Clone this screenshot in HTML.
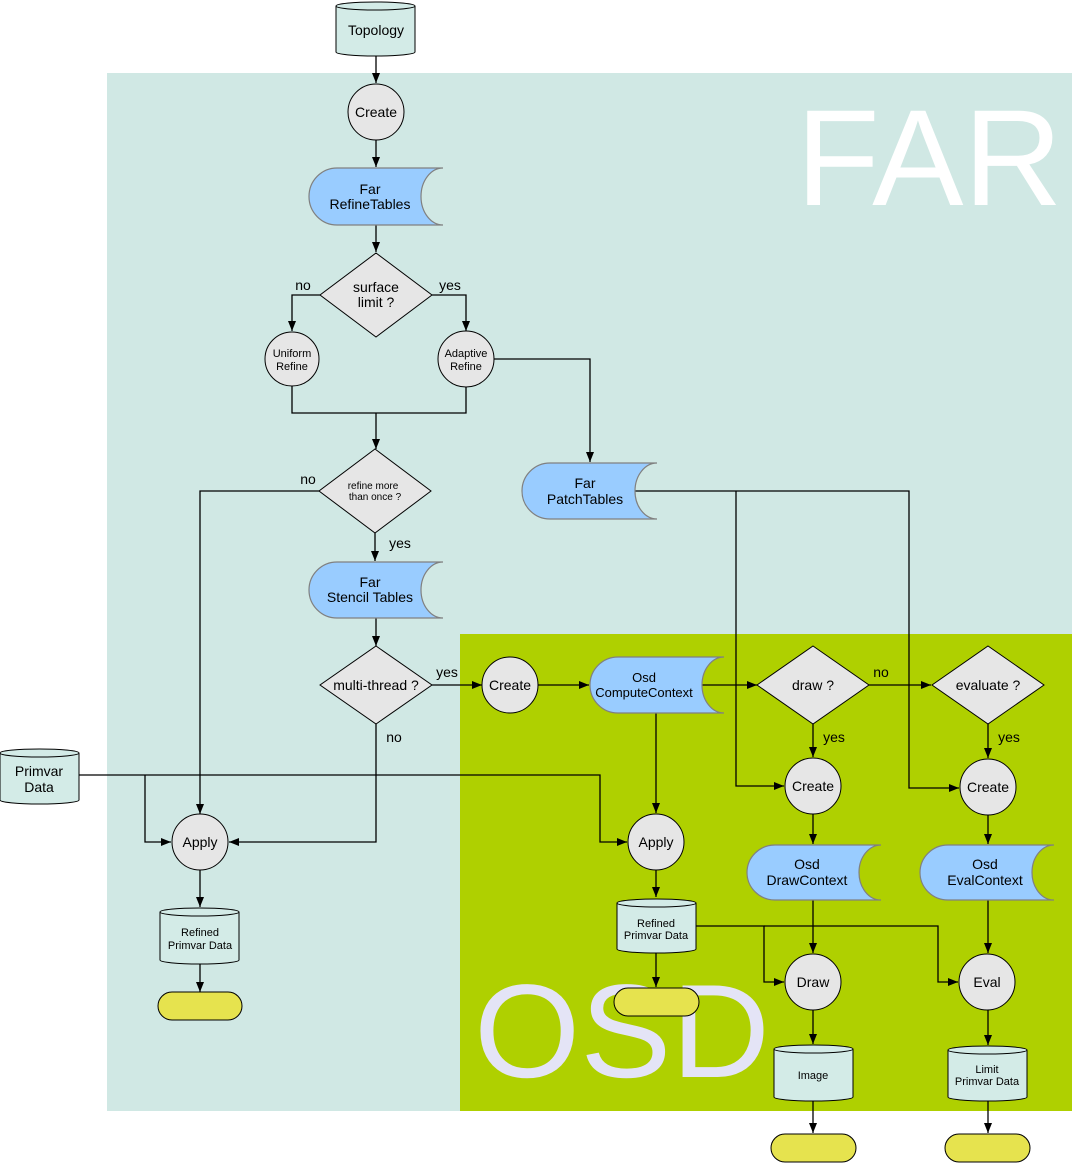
<!DOCTYPE html>
<html><head><meta charset="utf-8"><style>html,body{margin:0;padding:0;background:#fff}svg{display:block}</style></head>
<body>
<svg width="1072" height="1163" viewBox="0 0 1072 1163" xmlns="http://www.w3.org/2000/svg" font-family="Liberation Sans, sans-serif">
<defs>
<marker id="a" markerWidth="10" markerHeight="8" refX="10" refY="4" orient="auto" markerUnits="userSpaceOnUse"><path d="M0,0 L10,4 L0,8 Z" fill="#000"/></marker>
</defs>
<rect x="107" y="73" width="965" height="1038" fill="#d0e8e4"/>
<rect x="460" y="634" width="612" height="477" fill="#afd000"/>
<text x="796" y="205" font-size="137" fill="#fff">FAR</text>
<text x="474" y="1077" font-size="133" fill="#e4e4f6" textLength="296" lengthAdjust="spacingAndGlyphs">OSD</text>

<g fill="none" stroke="#000" stroke-width="1.3">
<path d="M376,56 V83" marker-end="url(#a)"/>
<path d="M376,140 V167" marker-end="url(#a)"/>
<path d="M376,225 V252" marker-end="url(#a)"/>
<path d="M320,295 H292 V331" marker-end="url(#a)"/>
<path d="M432,295 H466 V331" marker-end="url(#a)"/>
<path d="M292,386 V413 H466 V387"/>
<path d="M376,413 V449" marker-end="url(#a)"/>
<path d="M494,359 H590 V462" marker-end="url(#a)"/>
<path d="M319,491 H200 V814" marker-end="url(#a)"/>
<path d="M375,533 V561" marker-end="url(#a)"/>
<path d="M376,618 V646" marker-end="url(#a)"/>
<path d="M432,685 H482" marker-end="url(#a)"/>
<path d="M376,724 V842 H229" marker-end="url(#a)"/>
<path d="M538,685 H589" marker-end="url(#a)"/>
<path d="M702,685 H757" marker-end="url(#a)"/>
<path d="M656,713 V813" marker-end="url(#a)"/>
<path d="M869,685 H931" marker-end="url(#a)"/>
<path d="M813,724 V757" marker-end="url(#a)"/>
<path d="M988,724 V758" marker-end="url(#a)"/>
<path d="M635,491 H909 V788 H959" marker-end="url(#a)"/>
<path d="M736,491 V786 H784" marker-end="url(#a)"/>
<path d="M813,814 V844" marker-end="url(#a)"/>
<path d="M988,815 V844" marker-end="url(#a)"/>
<path d="M813,900 V953" marker-end="url(#a)"/>
<path d="M988,900 V953" marker-end="url(#a)"/>
<path d="M79,775 H600 V842 H627" marker-end="url(#a)"/>
<path d="M145,775 V842 H171" marker-end="url(#a)"/>
<path d="M200,870 V907" marker-end="url(#a)"/>
<path d="M200,964 V992" marker-end="url(#a)"/>
<path d="M656,870 V897" marker-end="url(#a)"/>
<path d="M656,953 V987" marker-end="url(#a)"/>
<path d="M696,926 H764 V982 H784" marker-end="url(#a)"/>
<path d="M764,926 H938 V982 H958" marker-end="url(#a)"/>
<path d="M813,1010 V1044" marker-end="url(#a)"/>
<path d="M988,1010 V1045" marker-end="url(#a)"/>
<path d="M813,1101 V1133" marker-end="url(#a)"/>
<path d="M988,1101 V1133" marker-end="url(#a)"/>
</g>

<g fill="#d3ebe7" stroke="#000" stroke-width="1">
<path d="M336,6 V52 A39.5,4 0 0 0 415,52 V6"/><ellipse cx="375.5" cy="6" rx="39.5" ry="4"/>
<path d="M0,753 V800 A39.5,4 0 0 0 79,800 V753"/><ellipse cx="39.5" cy="753" rx="39.5" ry="4"/>
<path d="M160,912 V960 A39.5,4 0 0 0 239,960 V912"/><ellipse cx="199.5" cy="912" rx="39.5" ry="4"/>
<path d="M617,903 V949 A39.5,4 0 0 0 696,949 V903"/><ellipse cx="656.5" cy="903" rx="39.5" ry="4"/>
<path d="M774,1049 V1097 A39.5,4 0 0 0 853,1097 V1049"/><ellipse cx="813.5" cy="1049" rx="39.5" ry="4"/>
<path d="M948,1050 V1097 A39.5,4 0 0 0 1027,1097 V1050"/><ellipse cx="987.5" cy="1050" rx="39.5" ry="4"/>
</g>

<g fill="#e6e6e6" stroke="#000" stroke-width="1">
<circle cx="376" cy="112" r="28"/>
<circle cx="292" cy="359" r="27"/>
<circle cx="466" cy="359" r="28"/>
<circle cx="510" cy="685" r="28"/>
<circle cx="200" cy="842" r="28"/>
<circle cx="656" cy="842" r="28"/>
<circle cx="813" cy="786" r="28"/>
<circle cx="988" cy="787" r="28"/>
<circle cx="813" cy="982" r="28"/>
<circle cx="987" cy="982" r="28"/>
<path d="M376,253 L432,295 L376,337 L320,295 Z"/>
<path d="M375,449 L431,491 L375,533 L319,491 Z"/>
<path d="M376,646 L432,685 L376,724 L320,685 Z"/>
<path d="M813,646 L869,685 L813,724 L757,685 Z"/>
<path d="M988,646 L1044,685 L988,724 L932,685 Z"/>
</g>

<g fill="#99ccff" stroke="#808080" stroke-width="1.2">
<path d="M337,168 H443 A22,28.5 0 0 0 443,225 H337 A28,28.5 0 0 1 337,168 Z"/>
<path d="M550,463 H657 A22,28 0 0 0 657,519 H550 A28,28 0 0 1 550,463 Z"/>
<path d="M337,562 H443 A22,28 0 0 0 443,618 H337 A28,28 0 0 1 337,562 Z"/>
<path d="M618,657 H724 A22,28 0 0 0 724,713 H618 A28,28 0 0 1 618,657 Z"/>
<path d="M775,845 H881 A22,27.5 0 0 0 881,900 H775 A28,27.5 0 0 1 775,845 Z"/>
<path d="M948,845 H1054 A22,27.5 0 0 0 1054,900 H948 A28,27.5 0 0 1 948,845 Z"/>
</g>

<g fill="#e6e34e" stroke="#000" stroke-width="1">
<rect x="158" y="992" width="84" height="28" rx="14"/>
<rect x="614" y="988" width="85" height="28" rx="14"/>
<rect x="771" y="1134" width="85" height="28" rx="14"/>
<rect x="945" y="1134" width="85" height="28" rx="14"/>
</g>

<g font-size="14" fill="#000" text-anchor="middle">
<text x="376" y="35">Topology</text>
<text x="376" y="117">Create</text>
<text x="370" y="194">Far</text><text x="370" y="209">RefineTables</text>
<text x="376" y="292">surface</text><text x="376" y="307">limit ?</text>
<text x="303" y="290">no</text><text x="450" y="290">yes</text>
<text x="308" y="484">no</text><text x="400" y="548">yes</text>
<text x="585" y="488">Far</text><text x="585" y="504">PatchTables</text>
<text x="370" y="587">Far</text><text x="370" y="602">Stencil Tables</text>
<text x="376" y="690">multi-thread ?</text>
<text x="447" y="677">yes</text><text x="394" y="742">no</text>
<text x="510" y="690">Create</text>
<text x="813" y="690">draw ?</text>
<text x="988" y="690">evaluate ?</text>
<text x="881" y="677">no</text>
<text x="834" y="742">yes</text><text x="1009" y="742">yes</text>
<text x="813" y="791">Create</text><text x="988" y="792">Create</text>
<text x="807" y="869">Osd</text><text x="807" y="885">DrawContext</text>
<text x="985" y="869">Osd</text><text x="985" y="885">EvalContext</text>
<text x="813" y="987">Draw</text><text x="987" y="987">Eval</text>
<text x="39" y="776">Primvar</text><text x="39" y="792">Data</text>
<text x="200" y="847">Apply</text><text x="656" y="847">Apply</text>
</g>
<g font-size="13" text-anchor="middle">
<text x="644" y="682">Osd</text><text x="644" y="697">ComputeContext</text>
</g>
<g font-size="11" text-anchor="middle">
<text x="292" y="357">Uniform</text><text x="292" y="370">Refine</text>
<text x="466" y="357">Adaptive</text><text x="466" y="370">Refine</text>
<text x="200" y="936">Refined</text><text x="200" y="949">Primvar Data</text>
<text x="656" y="927">Refined</text><text x="656" y="939">Primvar Data</text>
<text x="813" y="1079">Image</text>
<text x="987" y="1073">Limit</text><text x="987" y="1085">Primvar Data</text>
</g>
<g font-size="10" text-anchor="middle">
<text x="373" y="489">refine more</text><text x="375" y="500">than once ?</text>
</g>
</svg>
</body></html>
